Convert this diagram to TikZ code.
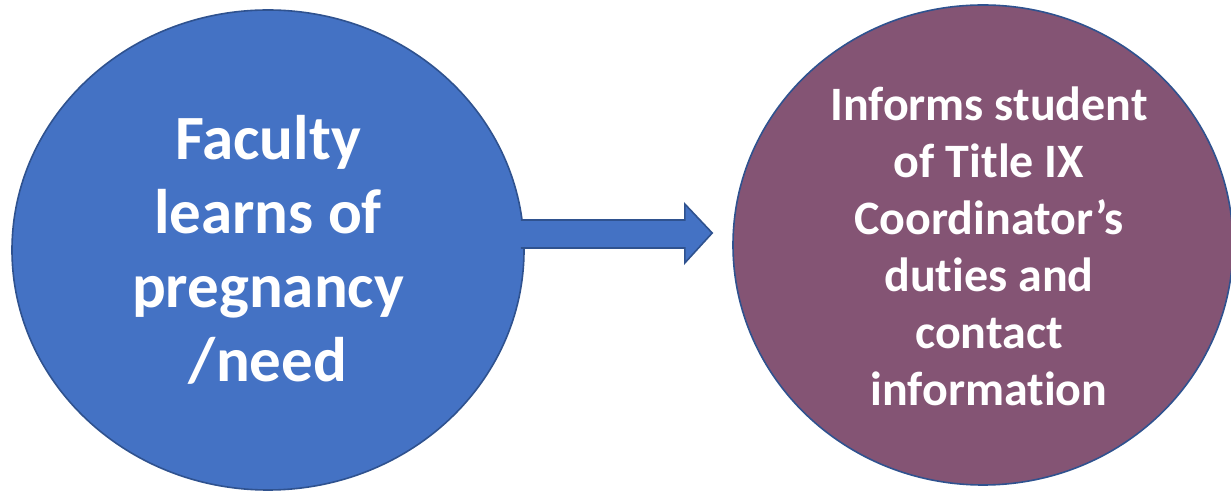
\documentclass[tikz,border=0pt]{standalone}
\usepackage{fontspec}
\setmainfont[Ligatures={NoCommon}]{Carlito}
\usetikzlibrary{shapes.geometric,calc}
\definecolor{boxblue}{HTML}{4472C4}
\definecolor{edgeblue}{HTML}{2F528F}
\definecolor{plum}{HTML}{845474}
\begin{document}
\begin{tikzpicture}[x=1pt,y=1pt,
  bubble/.style={ellipse,draw=edgeblue,line width=1.6pt,inner sep=0pt,
    text=white,align=center,font=\bfseries},
  blockarrow/.style={fill=boxblue,draw=edgeblue,line width=1.6pt,line join=miter}]
\useasboundingbox (0,0) rectangle (1231,492);
\clip (0,0) rectangle (1231,492);
\node[bubble,fill=boxblue,minimum width=512pt,minimum height=480pt,
  font=\bfseries\fontsize{63}{74}\selectfont] (L) at (268,242)
  {Faculty\\learns of\\pregnancy\\/need};
\node[bubble,fill=plum,minimum width=500pt,minimum height=480pt] (R) at (983,247) {};
\node[text=white,align=center,inner sep=0pt,
  font=\bfseries\fontsize{48}{57}\selectfont] (RT) at (989,246)
  {Informs student\\of Title IX\\Coordinator’s\\duties and\\contact\\information};
\draw[blockarrow] ($(L.east)+(-4,2)$) -- ($(L.east)+(160,2)$) -- ($(L.east)+(160,-13)$)
  -- ($(R.west)+(-20,12)$) -- ($(L.east)+(160,46)$) -- ($(L.east)+(160,30)$)
  -- ($(L.east)+(-4,30)$);
\end{tikzpicture}
\end{document}
